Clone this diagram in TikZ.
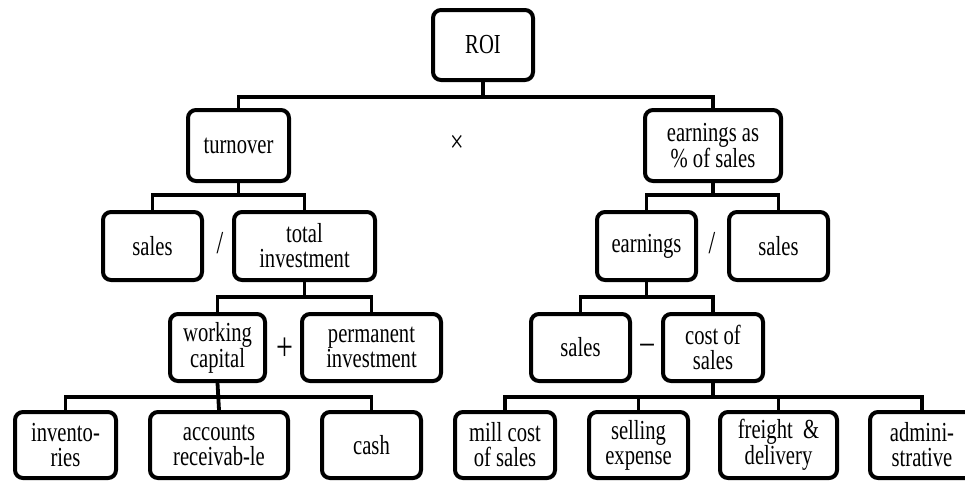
\documentclass[tikz,border=0pt]{standalone}
\usepackage{fontspec}
\setmainfont{Liberation Serif}[FakeStretch=0.75]
\begin{document}
\begin{tikzpicture}[x=1pt,y=-1pt,
  box/.style={draw=black,line width=4pt,rounded corners=8pt,align=center,
    inner sep=0pt,font=\fontsize{27.5}{25}\selectfont,text=black},
  conn/.style={draw=black,line width=3.8pt},
  op/.style={inner sep=0pt,text=black}]
\clip (0,0) rectangle (965,483);
\useasboundingbox (0,0) rectangle (965,483);
% level 0
\node[box,minimum width=100pt,minimum height=70pt] (roi) at (483,45) {ROI};
% level 1
\node[box,minimum width=101pt,minimum height=71pt] (turn) at (238.5,145.5) {turnover};
\node[box,minimum width=136pt,minimum height=71pt] (epct) at (713,145.5) {earnings as\\\% of sales};
% level 2
\node[box,minimum width=99pt,minimum height=68pt] (salesa) at (152.5,246) {sales};
\node[box,minimum width=141pt,minimum height=68pt] (totinv) at (304.5,246) {total\\investment};
\node[box,minimum width=99pt,minimum height=68pt] (earn) at (646.5,246) {earnings};
\node[box,minimum width=99pt,minimum height=68pt] (salesb) at (778.5,246) {sales};
% level 3
\node[box,minimum width=95pt,minimum height=67pt] (wc) at (217.5,347.5) {working\\capital};
\node[box,minimum width=139pt,minimum height=67pt] (perm) at (371.5,347.5) {permanent\\investment};
\node[box,minimum width=99pt,minimum height=67pt] (salesc) at (580.5,347.5) {sales};
\node[box,minimum width=100pt,minimum height=67pt] (cos) at (713,347.5) {cost of\\sales};
% level 4
\node[box,minimum width=101pt,minimum height=66pt] (inv) at (65.5,445) {invento-\\ries};
\node[box,minimum width=138pt,minimum height=66pt] (ar) at (219,445) {accounts\\receivab-le};
\node[box,minimum width=99pt,minimum height=66pt] (cash) at (371.5,445) {cash};
\node[box,minimum width=100pt,minimum height=66pt] (mill) at (505,445) {mill cost\\of sales};
\node[box,minimum width=99pt,minimum height=66pt] (sell) at (638.5,445) {selling\\expense};
\node[box,minimum width=117pt,minimum height=66pt] (frt) at (778.5,445) {freight \ \&\\delivery};
\node[box,minimum width=104pt,minimum height=66pt] (adm) at (922,445) {admini-\\strative};
% bus levels
\coordinate (b0) at (0,97);
\coordinate (b1) at (0,195);
\coordinate (b2) at (0,297);
\coordinate (b3) at (0,397);
% connectors
\draw[conn] (roi.south) -- (roi.south |- b0);
\draw[conn] (turn.north) -- (turn.north |- b0) -- (epct.north |- b0) -- (epct.north);
\draw[conn] (turn.south) -- (turn.south |- b1);
\draw[conn] (salesa.north) -- (salesa.north |- b1) -- (totinv.north |- b1) -- (totinv.north);
\draw[conn] (epct.south) -- (epct.south |- b1);
\draw[conn] (earn.north) -- (earn.north |- b1) -- (salesb.north |- b1) -- (salesb.north);
\draw[conn] (totinv.south) -- (totinv.south |- b2);
\draw[conn] (wc.north) -- (wc.north |- b2) -- (perm.north |- b2) -- (perm.north);
\draw[conn] (earn.south) -- (earn.south |- b2);
\draw[conn] (salesc.north) -- (salesc.north |- b2) -- (cos.north |- b2) -- (cos.north);
\draw[conn] (wc.south) -- (ar.north);
\draw[conn] (inv.north) -- (inv.north |- b3) -- (cash.north |- b3) -- (cash.north);
\draw[conn] (cos.south) -- (cos.south |- b3);
\draw[conn] (mill.north) -- (mill.north |- b3) -- (adm.north |- b3) -- (adm.north);
\draw[conn] (sell.north) -- (sell.north |- b3);
\draw[conn] (frt.north) -- (frt.north |- b3);
% operators
\node[op,font=\fontsize{32}{32}\selectfont] (times) at (457,144) {×};
\node[op,font=\fontsize{32}{32}\selectfont] (div1) at (220,243) {/};
\node[op,font=\fontsize{32}{32}\selectfont] (div2) at (712,243) {/};
\node[op,font=\fontsize{40}{40}\selectfont] (plus) at (285,349) {+};
\node[op,font=\fontsize{36}{36}\selectfont] (minus) at (647,349) {–};
\end{tikzpicture}
\end{document}
